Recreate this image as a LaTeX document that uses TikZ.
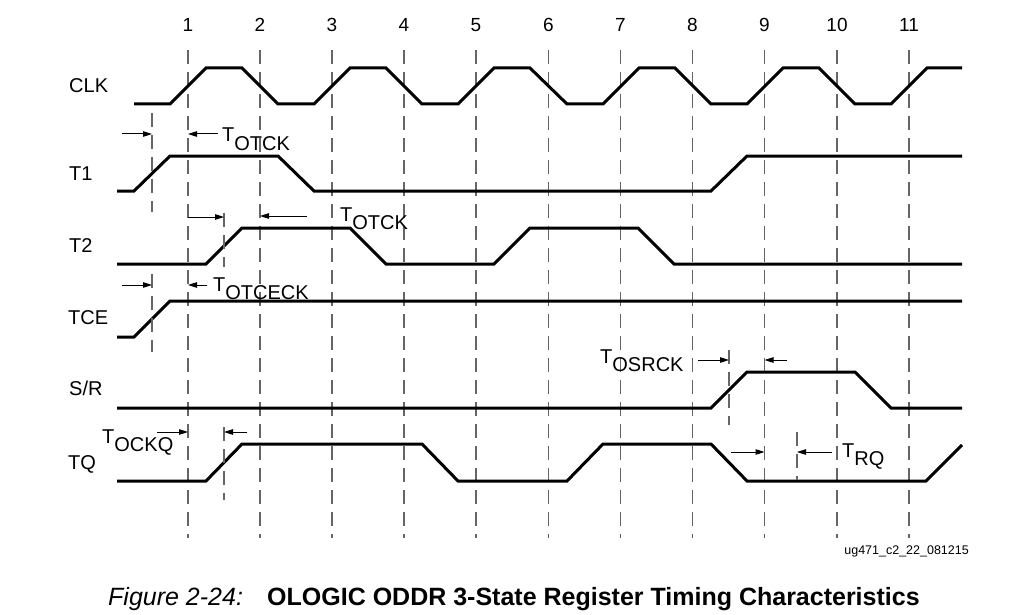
\documentclass[tikz,border=0pt]{standalone}
\usepackage{fontspec}
\setmainfont{Liberation Sans}
\usetikzlibrary{arrows.meta}
\tikzset{
  wave/.style={line width=3pt},
  guide/.style={draw=black!60, line width=1.3pt, dash pattern=on 14pt off 8pt},
  dim/.style={-{Triangle[length=9pt,width=5.5pt]}, line width=1pt},
  sig/.style={anchor=base west, inner sep=0pt, font=\fontsize{20}{23}\selectfont},
  num/.style={anchor=base, inner sep=0pt, font=\fontsize{19}{22}\selectfont},
  tlab/.style={anchor=base west, inner sep=0pt, font=\fontsize{20}{23}\selectfont}
}
\newcommand{\tsub}[1]{T\raisebox{-8.5pt}{#1}}
\begin{document}
\begin{tikzpicture}[x=1pt,y=-1pt]
\useasboundingbox (0,0) rectangle (1017,615);
% clock numbers
\node[num] (n1) at (188,32) {1};
\node[num] (n2) at (260,32) {2};
\node[num] (n3) at (332,32) {3};
\node[num] (n4) at (404,32) {4};
\node[num] (n5) at (476,32) {5};
\node[num] (n6) at (548.5,32) {6};
\node[num] (n7) at (620.5,32) {7};
\node[num] (n8) at (692.5,32) {8};
\node[num] (n9) at (764.5,32) {9};
\node[num] (n10) at (837,32) {10};
\node[num] (n11) at (909,32) {11};
% guide lines
\draw[guide] (188,50) -- (188,538);
\draw[guide] (260,50) -- (260,538);
\draw[guide] (332,50) -- (332,538);
\draw[guide] (404,50) -- (404,538);
\draw[guide] (476,50) -- (476,538);
\draw[guide] (548.5,50) -- (548.5,538);
\draw[guide] (620.5,50) -- (620.5,538);
\draw[guide] (692.5,50) -- (692.5,538);
\draw[guide] (764.5,50) -- (764.5,538);
\draw[guide] (837,50) -- (837,538);
\draw[guide] (909,50) -- (909,538);
% signal names
\node[sig] (clk) at (69,93) {CLK};
\node[sig] (t1) at (69,180.5) {T1};
\node[sig] (t2) at (69,252) {T2};
\node[sig] (tce) at (68,324) {TCE};
\node[sig] (sr) at (69,395.5) {S/R};
\node[sig] (tq) at (68,469.5) {TQ};
% waveforms
\draw[wave] (134,104) -- (170,104) -- (206,68) -- (242,68) -- (278,104) -- (314,104)
  -- (350,68) -- (386,68) -- (422,104) -- (458,104) -- (494,68) -- (530,68)
  -- (567,104) -- (603,104) -- (639,68) -- (675,68) -- (711,104) -- (747,104)
  -- (783,68) -- (819,68) -- (855,104) -- (891,104) -- (927,68) -- (962,68);
\draw[wave] (117,191) -- (134,191) -- (170,156) -- (278,156) -- (314,191)
  -- (711,191) -- (747,156) -- (962,156);
\draw[wave] (117,264) -- (206,264) -- (242,228) -- (350,228) -- (386,264)
  -- (494,264) -- (530,228) -- (638,228) -- (674,264) -- (962,264);
\draw[wave] (117,337) -- (134,337) -- (170,301) -- (962,301);
\draw[wave] (117,408) -- (711,408) -- (747,372) -- (855,372) -- (891,408) -- (962,408);
\draw[wave] (117,481) -- (206,481) -- (242,444) -- (422,444) -- (458,481)
  -- (567,481) -- (603,444) -- (711,444) -- (747,481) -- (926,481) -- (962,445);
% edge markers
\coordinate (m1t) at (152,113);
\coordinate (m1b) at (152,212);
\coordinate (m2t) at (152,274);
\coordinate (m2b) at (152,352);
\coordinate (m3t) at (224,213);
\coordinate (m3b) at (224,267);
\coordinate (m4t) at (729,350);
\coordinate (m4b) at (729,425);
\coordinate (m5t) at (224,427);
\coordinate (m5b) at (224,500);
\coordinate (m6t) at (797,432);
\coordinate (m6b) at (797,480);
% arrow ends
\coordinate (a1) at (122,134);
\coordinate (b1) at (152,134);
\coordinate (a2) at (218,134);
\coordinate (b2) at (188,134);
\coordinate (a3) at (188,217);
\coordinate (b3) at (224,217);
\coordinate (a4) at (307,216);
\coordinate (b4) at (260,216);
\coordinate (a5) at (122,285);
\coordinate (b5) at (152,285);
\coordinate (a6) at (207,285);
\coordinate (b6) at (188,285);
\coordinate (a7) at (698,360);
\coordinate (b7) at (729,360);
\coordinate (a8) at (787,360);
\coordinate (b8) at (764.5,360);
\coordinate (a9) at (157,432);
\coordinate (b9) at (188,432);
\coordinate (a10) at (247,432);
\coordinate (b10) at (224,432);
\coordinate (a11) at (731,452);
\coordinate (b11) at (764.5,452);
\coordinate (a12) at (832,452);
\coordinate (b12) at (797,452);
% timing labels
\node[tlab] (otck1) at (222,142) {\tsub{OTCK}};
\node[tlab] (otck2) at (340,221) {\tsub{OTCK}};
\node[tlab] (otceck) at (213,291) {\tsub{OTCECK}};
\node[tlab] (osrck) at (600,363) {\tsub{OSRCK}};
\node[tlab] (ockq) at (102,443) {\tsub{OCKQ}};
\node[tlab] (rq) at (842,457) {\tsub{RQ}};
\path
  (m1t) edge [guide] (m1b)
  (m2t) edge [guide] (m2b)
  (m3t) edge [guide] (m3b)
  (m4t) edge [guide] (m4b)
  (m5t) edge [guide] (m5b)
  (m6t) edge [guide] (m6b)
  (a1) edge [dim] (b1)
  (a2) edge [dim] (b2)
  (a3) edge [dim] (b3)
  (a4) edge [dim] (b4)
  (a5) edge [dim] (b5)
  (a6) edge [dim] (b6)
  (a7) edge [dim] (b7)
  (a8) edge [dim] (b8)
  (a9) edge [dim] (b9)
  (a10) edge [dim] (b10)
  (a11) edge [dim] (b11)
  (a12) edge [dim] (b12)
;
% figure id and caption
\node[anchor=base east, inner sep=0pt, font=\fontsize{12.5}{15}\selectfont] (id) at (969,554) {ug471\_c2\_22\_081215};
\node[anchor=base west, inner sep=0pt, font=\fontsize{25}{29}\selectfont\itshape] (fig) at (108,605) {Figure 2-24:};
\node[anchor=base west, inner sep=0pt, font=\fontsize{25}{29}\selectfont\bfseries] (title) at (267,605) {OLOGIC ODDR 3-State Register Timing Characteristics};
\end{tikzpicture}
\end{document}
